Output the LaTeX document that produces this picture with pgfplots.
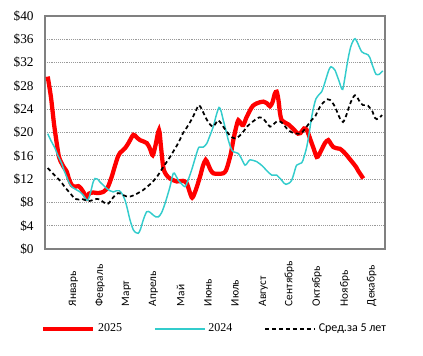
\documentclass[border=0pt]{standalone}
\usepackage{fontspec}
\setmainfont{Liberation Serif}
\newfontfamily\carlito{Carlito}
\usepackage{pgfplots}
\pgfplotsset{compat=1.18}
\definecolor{cy}{RGB}{51,204,204}
\begin{document}
\begin{tikzpicture}
\path[use as bounding box] (0,0) rectangle (317.25pt,266.25pt);
\begin{axis}[
  at={(33.75pt,79.5pt)}, anchor=south west,
  scale only axis, width=255pt, height=174.75pt,
  xmin=45, xmax=385, ymin=0, ymax=40,
  ytick={0,4,...,40},
  yticklabel={\$\pgfmathprintnumber{\tick}},
  /pgf/number format/assume math mode=true,
  yticklabel style={font=\fontsize{10}{12}\selectfont, xshift=-5pt},
  xtick={73.3,100,126.5,153.5,180.5,208,235,263.3,289.3,317,345,371.7},
  xticklabels={Январь,Февраль,Март,Апрель,Май,Июнь,Июль,Август,Сентябрь,Октябрь,Ноябрь,Декабрь},
  xticklabel style={rotate=90, anchor=west, inner sep=0pt, font=\carlito\fontsize{8.5}{10}\selectfont},
  xticklabel shift=43pt,
  major tick length=0pt,
  ymajorgrids,
  grid style={densely dotted, gray!80, line width=0.6pt},
  axis line style={gray, line width=1pt},
  legend style={at={(0.5,-0.343)}, anchor=center, draw=none, fill=none,
    font=\fontsize{9}{10}\selectfont, legend columns=3,
    /tikz/every even column/.append style={column sep=22pt}},
  legend image code/.code={\draw[#1] (0pt,0pt) -- (37.5pt,0pt);},
]
\addplot[red, line width=3.2pt, smooth, tension=0.5] coordinates {
(47.7,29.6) (51,26) (54,21.5) (56.7,18.2) (59,15.8) (61.7,14.7) (64,14) (66.7,13.3) (69,12) (71.7,11) (75,10.7) (78.3,10.8) (81,10.4) (84,9.6) (86.7,8.8) (89,9.5) (93.3,9.7) (98,9.6) (103.3,9.8) (106,10.2) (108.3,10.8) (111.7,12.4) (115,14.3) (118,15.9) (120,16.5) (125,17.3) (128.5,18.2) (133.3,19.6) (136.5,19.2) (140,18.7) (146.7,18.2) (150,17.2) (152.7,16.1) (155.5,17.8) (159,20.4) (161,17.5) (163.3,14) (166,12.8) (170,12.1) (176.7,11.6) (183,11.7) (186.7,11.3) (189.5,9.9) (192.2,8.8) (195.5,10) (200,12.4) (203,14.3) (205.7,15.3) (208,14.6) (210.5,13.6) (213.3,13) (218,12.9) (223.3,13) (226,13.5) (228.3,14.7) (231,16.5) (233.3,18.7) (236,20.8) (238.3,22.1) (241,21.5) (243.3,21.3) (246.5,22.6) (250,23.8) (253,24.6) (256.7,25) (260,25.2) (263.3,25.3) (267,25) (270,24.5) (272.5,25.2) (274.7,26.6) (276.7,27) (278.5,25.5) (280,23.3) (281.7,22.1) (285,21.7) (288.3,21.4) (291.5,20.9) (295,20.3) (298,19.8) (300.5,19.9) (304,20.7) (306.5,20.5) (308.3,19.8) (311,18.5) (313.3,17.4) (316.7,15.8) (319,16.2) (321.7,17.1) (325,18.2) (328.3,18.7) (331,18) (333.3,17.5) (336.5,17.3) (340,17.2) (343.5,16.7) (346.7,16.1) (350,15.4) (353.3,14.7) (356,14.1) (358.3,13.4) (361,12.7) (363.3,12.1)
};
\addlegendentry{2025}
\addplot[cy, line width=1.1pt, smooth, tension=0.5] coordinates {
(47.7,19.8) (51,18.6) (55,17.3) (58,16) (61.7,14.7) (64,13.5) (66.7,12.4) (69,11.4) (71.7,10.7) (76,10.2) (80,9.8) (83,9.3) (86.7,8.4) (88.5,8.6) (90.7,9.8) (93,11.4) (95,12.1) (97.5,12) (100,11.5) (103,11) (106.7,10.4) (110,10) (113.3,9.8) (116.5,10) (119.3,10) (122,9.5) (125,8.4) (127.5,6.8) (130,5) (133.3,3.3) (136,2.8) (138.3,2.7) (140.5,3.4) (143.3,5) (146.7,6.4) (150,6.3) (153.3,5.8) (156,5.5) (158.3,5.5) (161.5,6.2) (165,7.8) (168,9.5) (170,10.7) (173.3,13) (175.5,12.7) (178.3,11.8) (181.5,11.2) (185,10.7) (188,11.8) (191.7,13.6) (195,15.5) (198.3,17.3) (200,17.5) (203.3,17.5) (206.7,18.1) (210,19.5) (213.3,21) (216,22.8) (219,24.3) (221,23.7) (223.3,22.1) (226,20.3) (228.3,18.7) (231,17.3) (233.3,16.7) (238.3,16.4) (241.5,15.5) (245,14.4) (247.5,14.8) (250,15.3) (256.7,15) (260,14.6) (263.3,14.1) (267,13.4) (271.7,12.7) (276.7,12.7) (279,12.3) (281.7,11.8) (284,11.3) (286,11.1) (289,11.3) (291.7,11.8) (294,13) (296.7,14.4) (301.7,14.8) (304,15.8) (306.7,17.5) (309,19.7) (311.7,22.7) (314,24.6) (316,25.8) (319,26.5) (321.7,27) (324,28.1) (326.7,29.6) (329,30.8) (331,31.3) (333,31.1) (335,30.7) (337,29.8) (339.3,28.7) (341,27.8) (342.7,27.4) (344.5,29) (346.7,31.3) (348.7,33.2) (350.7,34.7) (353,35.7) (355,36.1) (357,35.6) (359.3,34.7) (361.5,33.9) (364,33.6) (366,33.5) (368.3,33.3) (370,32.8) (371.7,31.9) (374,30.8) (376,30) (379.3,30) (382.7,30.6)
};
\addlegendentry{2024}
\addplot[black, line width=1.3pt, dash pattern=on 3pt off 2.2pt, smooth, tension=0.5] coordinates {
(47.7,13.9) (51,13.3) (55,12.6) (58.5,12) (62,11.3) (65,10.6) (68,10) (71.5,9.3) (75,8.6) (78.5,8.5) (82,8.6) (85,8.4) (88,8.2) (91,8.3) (94,8.5) (97,8.6) (100,8.5) (103,8.1) (107,7.7) (109.5,8) (112,8.6) (115,9.2) (118,9.6) (121,9.5) (124,9.2) (127,9.0) (130,9.0) (133.5,9.2) (137,9.5) (140,9.8) (143,10.1) (146.5,10.6) (150,11.1) (153.5,11.7) (157,12.4) (160,13.2) (163,14.0) (166.5,14.9) (170,15.8) (173.5,16.8) (177,17.8) (180,18.8) (183,19.9) (185.5,20.5) (188,21.2) (190.5,21.9) (193,22.7) (196,23.8) (199,24.7) (202,23.9) (205,22.8) (207.5,22.0) (210,21.4) (213,21.0) (215.5,21.5) (218,22.1) (221,21.6) (224,20.8) (227.5,20.0) (231,19.3) (234.5,19.0) (238,19.2) (241,19.7) (244,20.3) (247,21.0) (250,21.5) (253,21.9) (256,22.3) (259.5,22.6) (263,22.4) (266,21.8) (270,21.0) (273,21.3) (276.7,21.9) (280,21.9) (283,21.5) (286.7,20.7) (290,20.2) (293.3,19.9) (298,19.8) (300,19.8) (302.5,20.1) (305,20.6) (307.5,21.2) (310,21.8) (312.5,22.3) (315,22.7) (318.3,23.9) (321.5,24.8) (325,25.4) (327.5,25.7) (330,25.6) (332.5,25.1) (335,24.4) (337.5,23.4) (340,22.4) (343,21.8) (345,22.4) (347,23.3) (349,24.4) (351,25.3) (353,26.0) (355,26.4) (357,26.1) (359,25.5) (361,25.0) (363,24.7) (366,24.7) (368,24.6) (370,24.2) (372,23.8) (373.5,23.1) (375,22.5) (376.7,22.3) (378.5,22.4) (380,22.6) (382,23.0)
};
\addlegendentry{\carlito Сред.за 5 лет}
\end{axis}
\end{tikzpicture}
\end{document}
